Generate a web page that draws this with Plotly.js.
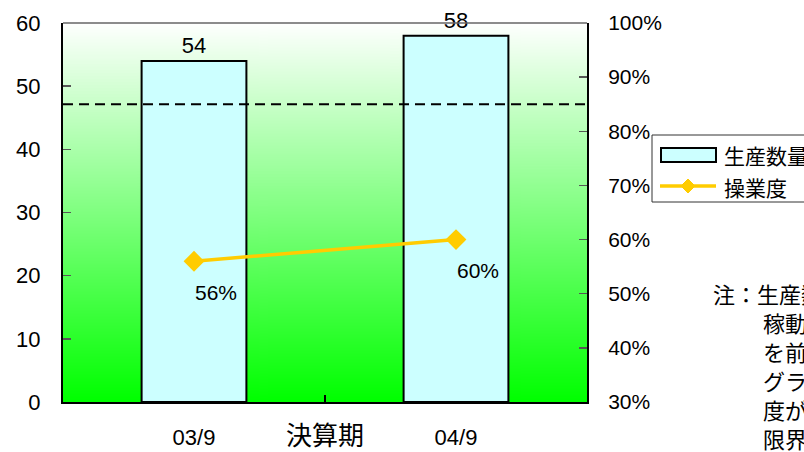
<!DOCTYPE html>
<html>
<head>
<meta charset="utf-8">
<script src="https://cdn.plot.ly/plotly-3.0.1.min.js"></script>
<style>
  html, body { margin: 0; padding: 0; background: #fff; }
  #chart { width: 804px; height: 452px; }
</style>
</head>
<body>
<div id="chart"></div>
<script>
// Fiscal periods and series
const categories = ['03/9', '04/9'];
const production = [54, 58];            // 生産数量 (left axis)
const utilization = [0.56, 0.60];       // 操業度 (right axis, ratio)
const utilizationLimit = 0.85;          // dashed reference level
const seriesNames = ['生産数量', '操業度'];
const axisTitle = '決算期';
const noteLines = [
  '注：生産数量は1日2直の',
  '稼動、年間稼動日数240日',
  'を前提とした換算値です。',
  'グラフ中の点線は、操業',
  '度がこの水準を超えると',
  '限界に近いことを示します。'
];

// Plot-area geometry (pixels) and pixel -> paper helpers
const W = 804, H = 452;
const PL = 63, PT = 23, PW = 524, PH = 379;
const px = x => (x - PL) / PW;
const py = y => (PT + PH - y) / PH;

const SANS = 'Liberation Sans, Arial, sans-serif';
const NARROW = 'Liberation Sans Narrow, Arial Narrow, Liberation Sans, Arial, sans-serif';
const CJK = 'Noto Sans CJK JP, Noto Sans, sans-serif';

const BAR_FILL = '#CCFFFF';
const LINE_COLOR = '#FFCC00';

// Vertical white -> green gradient for the plot background
function gradientImage() {
  const c = document.createElement('canvas');
  c.width = 4; c.height = 512;
  const g = c.getContext('2d');
  const grad = g.createLinearGradient(0, 0, 0, 512);
  grad.addColorStop(0, '#ffffff');
  grad.addColorStop(1, '#00ff00');
  g.fillStyle = grad;
  g.fillRect(0, 0, 4, 512);
  return c.toDataURL('image/png');
}

const traces = [
  {
    type: 'bar',
    name: seriesNames[0],
    x: categories,
    y: production,
    text: production.map(String),
    textposition: 'outside',
    textfont: { family: SANS, size: 22, color: '#000' },
    cliponaxis: false,
    marker: { color: BAR_FILL, line: { color: '#000', width: 2 } },
    hoverinfo: 'skip'
  },
  {
    type: 'scatter',
    name: seriesNames[1],
    x: categories,
    y: utilization,
    yaxis: 'y2',
    mode: 'lines+markers',
    line: { color: LINE_COLOR, width: 3.5 },
    marker: { symbol: 'diamond', size: 16, color: LINE_COLOR },
    cliponaxis: false,
    hoverinfo: 'skip'
  }
];

// Percentage labels under each utilization point
const valueLabels = utilization.map((v, i) => ({
  x: categories[i], y: v, xref: 'x', yref: 'y2',
  text: Math.round(v * 100) + '%',
  showarrow: false, xanchor: 'center', yanchor: 'middle',
  xshift: 22, yshift: -31,
  font: { family: NARROW, size: 21, color: '#000' }
}));

// Legend drawn at the right of the plot
const legendShapes = [
  { type: 'rect', xref: 'paper', yref: 'paper',
    x0: px(652), x1: px(860), y0: py(202), y1: py(135),
    line: { color: '#333', width: 1 }, fillcolor: '#fff', layer: 'above' },
  { type: 'rect', xref: 'paper', yref: 'paper',
    x0: px(661), x1: px(716), y0: py(162), y1: py(148),
    line: { color: '#000', width: 2 }, fillcolor: BAR_FILL, layer: 'above' },
  { type: 'line', xref: 'paper', yref: 'paper',
    x0: px(660), x1: px(716), y0: py(186), y1: py(186),
    line: { color: LINE_COLOR, width: 3.5 }, layer: 'above' },
  { type: 'path', xref: 'paper', yref: 'paper',
    path: `M${px(681)},${py(186)} L${px(688)},${py(179)} L${px(695)},${py(186)} L${px(688)},${py(193)} Z`,
    fillcolor: LINE_COLOR, line: { color: LINE_COLOR, width: 1 }, layer: 'above' }
];
const legendLabels = seriesNames.map((name, i) => ({
  xref: 'paper', yref: 'paper',
  x: px(722), y: py(i === 0 ? 155 : 187),
  text: name, showarrow: false, xanchor: 'left', yanchor: 'middle',
  font: { family: CJK, size: 21, color: '#000' }
}));

// Footnote lines
const noteAnnotations = noteLines.map((line, i) => ({
  xref: 'paper', yref: 'paper',
  x: px(i === 0 ? 711 : 761), y: py(293 + i * 29),
  text: line, showarrow: false, xanchor: 'left', yanchor: 'middle',
  font: { family: CJK, size: 22, color: '#000' }
}));

const layout = {
  width: W, height: H,
  margin: { l: PL, r: W - PL - PW, t: PT, b: H - PT - PH, pad: 0 },
  paper_bgcolor: '#fff',
  plot_bgcolor: '#fff',
  showlegend: false,
  bargap: 0.6,
  font: { family: SANS, color: '#000' },
  xaxis: {
    type: 'category',
    range: [-0.5, 1.5],
    tickson: 'boundaries',
    ticks: 'inside', ticklen: 7, tickwidth: 1.5, tickcolor: '#000',
    showline: true, linecolor: '#000', linewidth: 2,
    showgrid: false, zeroline: false,
    tickfont: { family: SANS, size: 22, color: '#000' },
    ticklabelstandoff: 15,
    fixedrange: true
  },
  yaxis: {
    range: [0, 60], dtick: 10, tick0: 0,
    ticks: 'inside', ticklen: 8, tickwidth: 1.5, tickcolor: '#555',
    showline: true, linecolor: '#000', linewidth: 2,
    showgrid: false, zeroline: false,
    tickfont: { family: SANS, size: 22, color: '#000' },
    ticklabelstandoff: 16,
    fixedrange: true
  },
  yaxis2: {
    overlaying: 'y', side: 'right',
    range: [0.3, 1.0], dtick: 0.1, tick0: 0.3, tickformat: '.0%',
    ticks: 'inside', ticklen: 8, tickwidth: 1.5, tickcolor: '#555',
    showline: true, linecolor: '#000', linewidth: 2,
    showgrid: false, zeroline: false,
    tickfont: { family: NARROW, size: 21, color: '#000' },
    ticklabelstandoff: 15,
    fixedrange: true
  },
  images: [{
    source: gradientImage(),
    xref: 'paper', yref: 'paper',
    x: 0, y: 1, sizex: 1, sizey: 1,
    xanchor: 'left', yanchor: 'top',
    sizing: 'stretch', layer: 'below'
  }],
  shapes: [
    // top border of the plot area
    { type: 'line', xref: 'paper', yref: 'paper', x0: 0, x1: 1, y0: 1, y1: 1,
      line: { color: '#666', width: 1.5 } },
    // utilization reference level
    { type: 'line', xref: 'paper', yref: 'y2', x0: 0, x1: 1,
      y0: utilizationLimit, y1: utilizationLimit,
      line: { color: '#000', width: 2, dash: '10px,6px' } },
    ...legendShapes
  ],
  annotations: [
    { xref: 'paper', yref: 'paper', x: 0.5, y: py(433),
      text: axisTitle, showarrow: false, xanchor: 'center', yanchor: 'middle',
      font: { family: CJK, size: 26, color: '#000' } },
    ...valueLabels,
    ...legendLabels,
    ...noteAnnotations
  ]
};

Plotly.newPlot('chart', traces, layout, { staticPlot: true, displayModeBar: false });
</script>
</body>
</html>
